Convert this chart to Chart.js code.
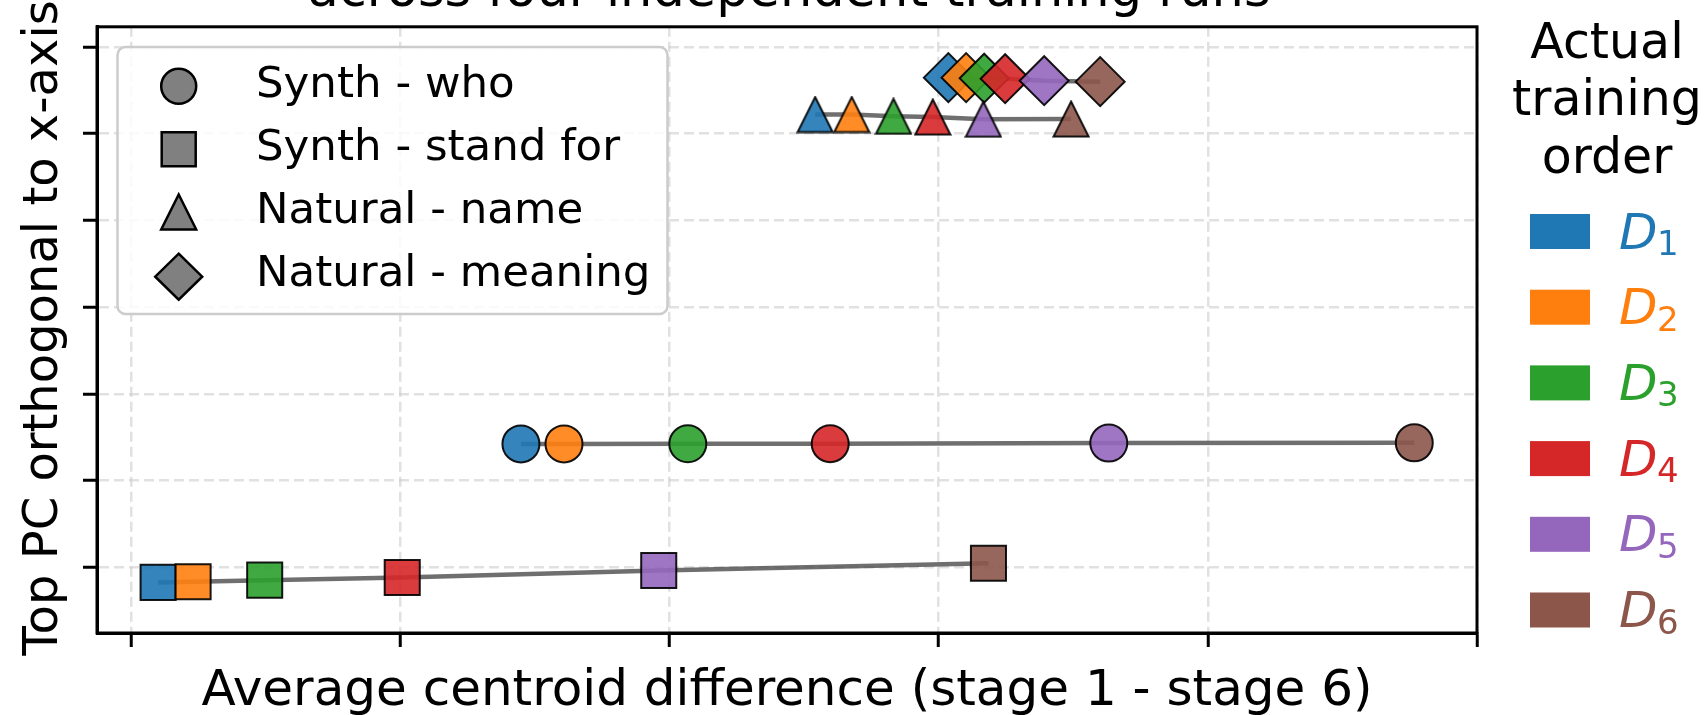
<!DOCTYPE html>
<html>
<head>
<meta charset="utf-8">
<script src="https://cdn.jsdelivr.net/npm/chart.js@4/dist/chart.umd.min.js"></script>
<style>
  body { margin: 0; background: #fff; }
  canvas { display: block; }
</style>
</head>
<body>
<canvas id="chart" width="1706" height="715"></canvas>
<script>
// training order D1..D6 (colour per run)
const stageNums = ['1', '2', '3', '4', '5', '6'];
const runColors = ['#1f77b4', '#ff7f0e', '#2ca02c', '#d62728', '#9467bd', '#8c564b'];
const seriesNames = ['Synth - who', 'Synth - stand for', 'Natural - name', 'Natural - meaning'];

// values (axis units = hidden tick steps)
const whoX = [1.448, 1.608, 2.068, 2.597, 3.632, 4.767];
const whoY = [1.424, 1.424, 1.425, 1.426, 1.433, 1.436];
const standX = [0.100, 0.230, 0.496, 1.007, 1.960, 3.185];
const standY = [-0.172, -0.165, -0.146, -0.115, -0.034, 0.049];
const nameX = [2.541, 2.677, 2.832, 2.978, 3.166, 3.492];
const nameY = [5.219, 5.219, 5.199, 5.190, 5.165, 5.167];
const meaningX = [3.036, 3.102, 3.169, 3.247, 3.392, 3.600];
const meaningY = [5.644, 5.644, 5.638, 5.632, 5.609, 5.598];

const xTicks = [0, 1, 2, 3, 4, 5];
const yTicks = [0, 1, 2, 3, 4, 5, 6];

const FONT = "'DejaVu Sans', sans-serif";

function fade(hex, a) {
  const n = parseInt(hex.slice(1), 16);
  return `rgba(${n >> 16}, ${(n >> 8) & 255}, ${n & 255}, ${a})`;
}

function toPoints(xs, ys) {
  return xs.map((x, i) => ({ x: x, y: ys[i] }));
}

// matplotlib style '^' marker (width == height), drawn once per colour
function triangleImage(fill) {
  const c = document.createElement('canvas');
  c.width = 38; c.height = 38;
  const g = c.getContext('2d');
  g.beginPath();
  g.moveTo(19, 1.5);
  g.lineTo(36.5, 36.5);
  g.lineTo(1.5, 36.5);
  g.closePath();
  g.fillStyle = fill;
  g.fill();
  g.lineWidth = 2;
  g.lineJoin = 'miter';
  g.strokeStyle = 'rgba(0,0,0,0.9)';
  g.stroke();
  return c;
}

const pointFills = runColors.map(c => fade(c, 0.9));
const triangles = pointFills.map(triangleImage);

function groupDataset(label, xs, ys, style, radius) {
  return {
    label: label,
    data: toPoints(xs, ys),
    showLine: true,
    borderColor: 'rgba(75,75,75,0.8)',
    borderWidth: 4.5,
    pointStyle: style,
    pointRadius: radius,
    pointHoverRadius: radius,
    pointBackgroundColor: pointFills,
    pointBorderColor: 'rgba(0,0,0,0.9)',
    pointBorderWidth: 2
  };
}

function legendMarker(ctx, kind, x, y) {
  ctx.beginPath();
  if (kind === 0) {
    ctx.arc(x, y, 17.5, 0, Math.PI * 2);
  } else if (kind === 1) {
    ctx.rect(x - 17, y - 17, 34, 34);
  } else if (kind === 2) {
    ctx.moveTo(x, y - 17.5);
    ctx.lineTo(x + 17.5, y + 17.5);
    ctx.lineTo(x - 17.5, y + 17.5);
    ctx.closePath();
  } else {
    ctx.moveTo(x, y - 23);
    ctx.lineTo(x + 23.5, y);
    ctx.lineTo(x, y + 23);
    ctx.lineTo(x - 23.5, y);
    ctx.closePath();
  }
  ctx.fillStyle = '#808080';
  ctx.fill();
  ctx.lineWidth = 2.5;
  ctx.strokeStyle = '#000';
  ctx.stroke();
}

const decor = {
  id: 'decor',
  afterDraw(chart) {
    const ctx = chart.ctx;
    const a = chart.chartArea;
    const midX = (a.left + a.right) / 2;
    ctx.save();

    // box round the axes
    ctx.strokeStyle = '#000';
    ctx.lineWidth = 3;
    ctx.strokeRect(a.left, a.top, a.right - a.left, a.bottom - a.top);

    // title (first line is off the top of the image)
    ctx.fillStyle = '#000';
    ctx.textAlign = 'center';
    ctx.textBaseline = 'alphabetic';
    ctx.font = '51px ' + FONT;
    ctx.fillText('across four independent training runs', midX + 2, 6);

    // axis labels
    ctx.font = '50px ' + FONT;
    ctx.fillText('Average centroid difference (stage 1 - stage 6)', midX, 705);
    ctx.save();
    ctx.translate(57, (a.top + a.bottom) / 2 - 2);
    ctx.rotate(-Math.PI / 2);
    ctx.font = '48px ' + FONT;
    ctx.fillText('Top PC orthogonal to x-axis', 0, 0);
    ctx.restore();

    // marker legend inside the axes
    ctx.beginPath();
    ctx.roundRect(117.5, 47, 550, 267, 8);
    ctx.fillStyle = 'rgba(255,255,255,0.82)';
    ctx.fill();
    ctx.lineWidth = 2.5;
    ctx.strokeStyle = '#cccccc';
    ctx.stroke();
    const rowY = [86.2, 149.2, 212, 276.7];
    const baseY = [97.3, 160, 222.7, 286];
    ctx.textAlign = 'left';
    ctx.font = '43.5px ' + FONT;
    seriesNames.forEach((name, i) => {
      legendMarker(ctx, i, 178.7, rowY[i]);
      ctx.fillStyle = '#000';
      ctx.fillText(name, 256, baseY[i]);
    });

    // colour legend on the right
    ctx.textAlign = 'center';
    ctx.font = '49px ' + FONT;
    ctx.fillStyle = '#000';
    ctx.fillText('Actual', 1607, 58);
    ctx.fillText('training', 1607, 115);
    ctx.fillText('order', 1607, 173);
    ctx.textAlign = 'left';
    stageNums.forEach((num, i) => {
      const cy = 231.5 + i * 75.7;
      ctx.fillStyle = runColors[i];
      ctx.fillRect(1530, cy - 17.5, 60, 35);
      ctx.font = 'italic 50px ' + FONT;
      ctx.fillText('D', 1619, cy + 17);
      ctx.font = '34px ' + FONT;
      ctx.fillText(num, 1657, cy + 23.5);
    });

    ctx.restore();
  }
};

const axisCommon = {
  type: 'linear',
  ticks: { display: false },
  grid: {
    color: 'rgba(200,200,200,0.55)',
    lineWidth: 2.5,
    tickColor: '#000',
    tickWidth: 3,
    tickLength: 14,
    tickBorderDash: []
  },
  border: { display: true, color: '#000', width: 3, dash: [10, 5] }
};

new Chart(document.getElementById('chart'), {
  type: 'scatter',
  data: {
    datasets: [
      groupDataset(seriesNames[0], whoX, whoY, 'circle', 18.5),
      groupDataset(seriesNames[1], standX, standY, 'rect', 24.8),
      groupDataset(seriesNames[2], nameX, nameY, triangles, 19),
      groupDataset(seriesNames[3], meaningX, meaningY, 'rectRot', 24.5)
    ]
  },
  options: {
    responsive: false,
    animation: false,
    devicePixelRatio: 1,
    events: [],
    layout: { padding: { left: 83, right: 229, top: 25, bottom: 68 } },
    plugins: { legend: { display: false }, tooltip: { enabled: false } },
    scales: {
      x: Object.assign({}, axisCommon, {
        min: -0.127, max: 5,
        afterBuildTicks: s => { s.ticks = xTicks.map(v => ({ value: v })); }
      }),
      y: Object.assign({}, axisCommon, {
        min: -0.755, max: 6.23,
        afterBuildTicks: s => { s.ticks = yTicks.map(v => ({ value: v })); }
      })
    }
  },
  plugins: [decor]
});
</script>
</body>
</html>
